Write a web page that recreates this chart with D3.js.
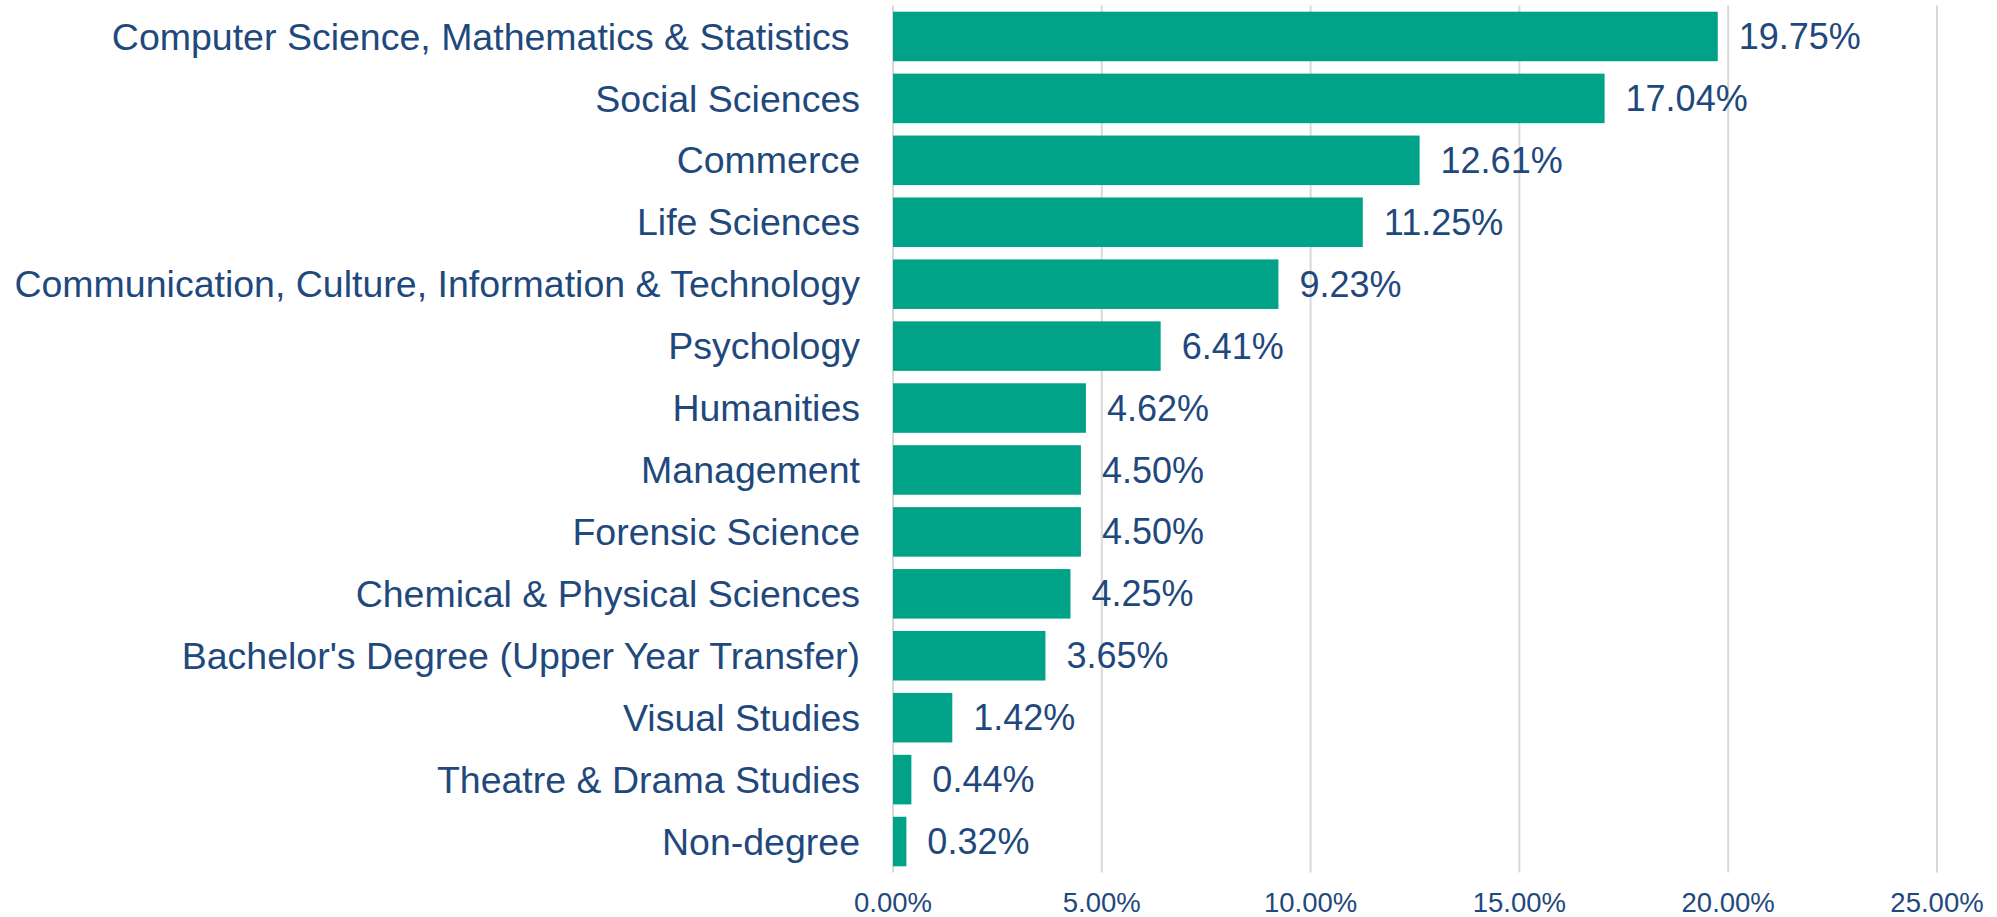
<!DOCTYPE html>
<html>
<head>
<meta charset="utf-8">
<script src="https://cdn.jsdelivr.net/npm/d3@7"></script>
<style>
  body { margin: 0; background: #fff; }
  svg { display: block; font-family: Arial, "Liberation Sans", sans-serif; }
</style>
</head>
<body>
<svg width="1997" height="917"></svg>
<script>
const programs = [
    "Computer Science, Mathematics & Statistics ",
    "Social Sciences",
    "Commerce",
    "Life Sciences",
    "Communication, Culture, Information & Technology",
    "Psychology",
    "Humanities",
    "Management",
    "Forensic Science",
    "Chemical & Physical Sciences",
    "Bachelor's Degree (Upper Year Transfer)",
    "Visual Studies",
    "Theatre & Drama Studies",
    "Non-degree"
];
const shares = [19.75, 17.04, 12.61, 11.25, 9.23, 6.41, 4.62, 4.50, 4.50, 4.25, 3.65, 1.42, 0.44, 0.32];
const xTicks = [0, 5, 10, 15, 20, 25];

const data = programs.map((p, i) => ({ label: p, value: shares[i] }));

const svg = d3.select("svg");
const area = { left: 893, right: 1937, top: 5.5, bottom: 872.5 };
const textColor = "#1F497D";

const scX = d3.scaleLinear().domain([0, 25]).range([area.left, area.right]);
const scY = d3.scaleBand()
    .domain(programs)
    .range([area.top, area.bottom])
    .paddingInner(0.2)
    .paddingOuter(0.1);

// gridlines
svg.append("g")
    .selectAll("line")
    .data(xTicks)
    .enter()
    .append("line")
    .attr("x1", d => scX(d))
    .attr("x2", d => scX(d))
    .attr("y1", area.top)
    .attr("y2", area.bottom)
    .attr("stroke", "#d9d9d9")
    .attr("stroke-width", 2);

// x tick labels
svg.append("g")
    .selectAll("text")
    .data(xTicks)
    .enter()
    .append("text")
    .attr("x", d => scX(d))
    .attr("y", 902)
    .attr("dy", "0.35em")
    .attr("text-anchor", "middle")
    .attr("fill", textColor)
    .style("font-size", "27.5px")
    .text(d => d.toFixed(2) + "%");

// bars
svg.append("g")
    .selectAll("rect")
    .data(data)
    .enter()
    .append("rect")
    .attr("x", scX(0))
    .attr("y", d => scY(d.label))
    .attr("width", d => scX(d.value) - scX(0))
    .attr("height", scY.bandwidth())
    .attr("fill", "#00A388");

// category labels
svg.append("g")
    .selectAll("text")
    .data(data)
    .enter()
    .append("text")
    .attr("x", scX(0) - 33)
    .attr("y", d => scY(d.label) + scY.bandwidth() / 2)
    .attr("dy", "0.35em")
    .attr("text-anchor", "end")
    .attr("fill", textColor)
    .style("font-size", "37.5px")
    .style("white-space", "pre")
    .text(d => d.label);

// value labels
svg.append("g")
    .selectAll("text")
    .data(data)
    .enter()
    .append("text")
    .attr("x", d => scX(d.value) + 21)
    .attr("y", d => scY(d.label) + scY.bandwidth() / 2)
    .attr("dy", "0.35em")
    .attr("fill", textColor)
    .style("font-size", "36px")
    .text(d => d.value.toFixed(2) + "%");
</script>
</body>
</html>
